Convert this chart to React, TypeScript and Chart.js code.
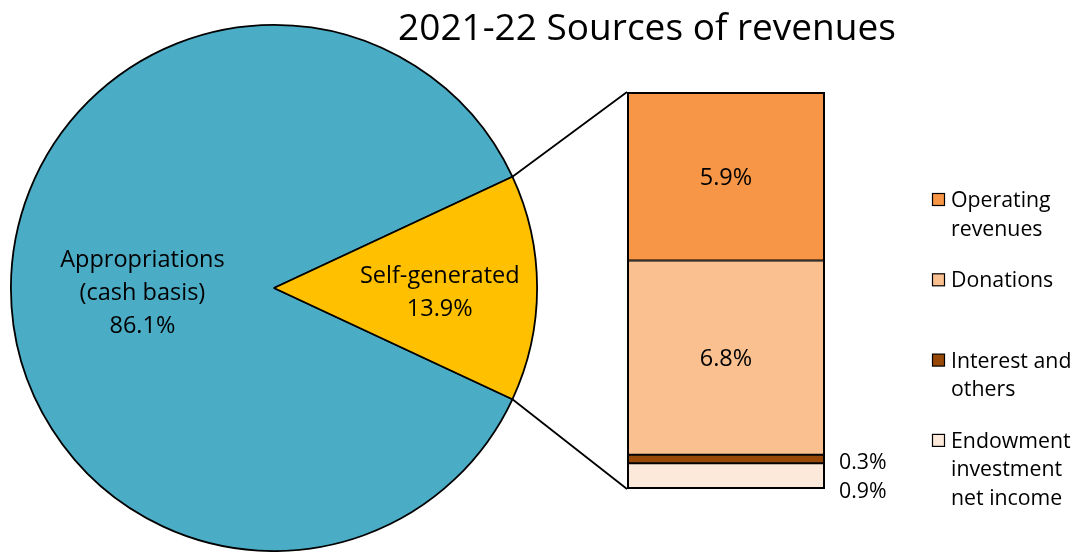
import { useEffect, useRef } from 'react';
import { Chart, registerables } from 'chart.js';

Chart.register(...registerables);

// ---------- data ----------
const chartTitle = '2021-22 Sources of revenues';

const pieLabels = ['Appropriations (cash basis)', 'Self-generated'];
const pieLabelLines = [['Appropriations', '(cash basis)'], ['Self-generated']];
const pieValues = [86.1, 13.9];
const pieColors = ['#4BACC6', '#FFC000'];

// stacked from bottom to top
const barSeries = ['Endowment investment net income', 'Interest and others', 'Donations', 'Operating revenues'];
const barLegendLines = [['Endowment', 'investment', 'net income'], ['Interest and', 'others'], ['Donations'], ['Operating', 'revenues']];
const barValues = [0.9, 0.3, 6.8, 5.9];
const barColors = ['#FDE9D9', '#984807', '#FAC090', '#F79646'];
const barCategory = ['Self-generated'];

const FONT = '"Open Sans", sans-serif';

// ---------- layout ----------
const W = 1073;
const H = 552;
const PIE_CX = 274;
const PIE_CY = 288;
const PIE_R = 264;
const PIE_BOX = PIE_R * 2;
const PIE_LEFT = PIE_CX - PIE_R;
const PIE_TOP = PIE_CY - PIE_R;

export default function App() {
  const pieRef = useRef<HTMLCanvasElement | null>(null);
  const barRef = useRef<HTMLCanvasElement | null>(null);

  useEffect(() => {
    if (!pieRef.current || !barRef.current) return;

    const pieLabelPlugin = {
      id: 'pieLabels',
      afterDatasetsDraw(chart: any) {
        const ctx = chart.ctx;
        const meta = chart.getDatasetMeta(0);
        const factors = [0.5, 0.63];
        ctx.save();
        ctx.fillStyle = '#000';
        ctx.font = `23.5px ${FONT}`;
        ctx.textAlign = 'center';
        ctx.textBaseline = 'middle';
        meta.data.forEach((arc: any, i: number) => {
          const mid = (arc.startAngle + arc.endAngle) / 2;
          const rr = arc.outerRadius * factors[i];
          const x = arc.x + Math.cos(mid) * rr;
          const y = arc.y + Math.sin(mid) * rr + 5;
          const lines = [...pieLabelLines[i], pieValues[i].toFixed(1) + '%'];
          const lh = 33;
          const y0 = y - ((lines.length - 1) * lh) / 2;
          lines.forEach((t, k) => ctx.fillText(t, x, y0 + k * lh));
        });
        ctx.restore();
      },
    };

    // start angle so that the second slice is centred on 3 o'clock
    const selfDeg = (pieValues[1] / (pieValues[0] + pieValues[1])) * 360;
    const pie = new Chart(pieRef.current, {
      type: 'pie',
      data: {
        labels: pieLabels,
        datasets: [
          {
            data: pieValues,
            backgroundColor: pieColors,
            borderColor: '#000',
            borderWidth: 1.8,
          },
        ],
      },
      options: {
        responsive: false,
        animation: false,
        rotation: selfDeg / 2 + 90,
        layout: { padding: 0 },
        plugins: { legend: { display: false }, tooltip: { enabled: false }, title: { display: false } },
      },
      plugins: [pieLabelPlugin],
    });

    const extrasPlugin = {
      id: 'extras',
      afterDatasetsDraw(chart: any) {
        const ctx = chart.ctx;
        const area = chart.chartArea;
        const yScale = chart.scales.y;
        ctx.save();

        // outline of the whole stacked bar
        ctx.strokeStyle = '#000';
        ctx.lineWidth = 2;
        ctx.strokeRect(area.left + 1, area.top + 1, area.right - area.left - 2, area.bottom - area.top - 2);

        // title
        ctx.fillStyle = '#000';
        ctx.font = `37px ${FONT}`;
        ctx.textAlign = 'center';
        ctx.textBaseline = 'middle';
        ctx.fillText(chartTitle, 647, 29);

        // connector lines from the pie slice to the bar
        const arc: any = pie.getDatasetMeta(0).data[1];
        if (arc) {
          const r = arc.outerRadius;
          const sx = PIE_LEFT + arc.x + Math.cos(arc.startAngle) * r;
          const sy = PIE_TOP + arc.y + Math.sin(arc.startAngle) * r;
          const ex = PIE_LEFT + arc.x + Math.cos(arc.endAngle) * r;
          const ey = PIE_TOP + arc.y + Math.sin(arc.endAngle) * r;
          ctx.strokeStyle = '#000';
          ctx.lineWidth = 1.8;
          ctx.beginPath();
          ctx.moveTo(sx, sy);
          ctx.lineTo(area.left, area.top);
          ctx.moveTo(ex, ey);
          ctx.lineTo(area.left, area.bottom);
          ctx.stroke();
        }

        // value labels
        let cum = 0;
        let outsideIdx = 0;
        const midX = (area.left + area.right) / 2;
        barValues.forEach((v) => {
          const yTop = yScale.getPixelForValue(cum + v);
          const yBot = yScale.getPixelForValue(cum);
          cum += v;
          const label = v.toFixed(1) + '%';
          if (yBot - yTop > 40) {
            ctx.font = `23.5px ${FONT}`;
            ctx.textAlign = 'center';
            ctx.fillText(label, midX, (yTop + yBot) / 2 + 2);
          } else {
            ctx.font = `21.3px ${FONT}`;
            ctx.textAlign = 'left';
            ctx.fillText(label, area.right + 14, area.bottom + 3 - outsideIdx * 29);
            outsideIdx++;
          }
        });

        // legend (top to bottom = reverse of stacking)
        ctx.font = `21.3px ${FONT}`;
        ctx.textAlign = 'left';
        for (let k = 0; k < barSeries.length; k++) {
          const i = barSeries.length - 1 - k;
          const y = 200 + k * 80.3;
          ctx.fillStyle = barColors[i];
          ctx.fillRect(932.5, y - 6.5, 12, 12);
          ctx.strokeStyle = '#000';
          ctx.lineWidth = 1.2;
          ctx.strokeRect(932.5, y - 6.5, 12, 12);
          ctx.fillStyle = '#000';
          barLegendLines[i].forEach((t, j) => ctx.fillText(t, 951, y + 1 + j * 28.5));
        }
        ctx.restore();
      },
    };

    const bar = new Chart(barRef.current, {
      type: 'bar',
      data: {
        labels: barCategory,
        datasets: barSeries.map((name, i) => ({
          label: name,
          data: [barValues[i]],
          backgroundColor: barColors[i],
          borderColor: '#000',
          borderWidth: 1.3,
          borderSkipped: false,
          barPercentage: 1,
          categoryPercentage: 1,
        })),
      },
      options: {
        responsive: false,
        animation: false,
        layout: { padding: { left: 627, right: 248, top: 92, bottom: 63 } },
        scales: {
          x: { stacked: true, display: false },
          y: {
            stacked: true,
            display: false,
            min: 0,
            max: barValues.reduce((a, b) => a + b, 0),
          },
        },
        plugins: { legend: { display: false }, tooltip: { enabled: false }, title: { display: false } },
      },
      plugins: [extrasPlugin],
    });

    return () => {
      bar.destroy();
      pie.destroy();
    };
  }, []);

  return (
    <div
      style={{
        position: 'absolute',
        left: 0,
        top: 0,
        width: W,
        height: H,
        overflow: 'hidden',
        background: '#fff',
      }}
    >
      <canvas
        ref={barRef}
        width={W}
        height={H}
        style={{ position: 'absolute', left: 0, top: 0, width: W, height: H }}
      />
      <canvas
        ref={pieRef}
        width={PIE_BOX}
        height={PIE_BOX}
        style={{ position: 'absolute', left: PIE_LEFT, top: PIE_TOP, width: PIE_BOX, height: PIE_BOX }}
      />
    </div>
  );
}
